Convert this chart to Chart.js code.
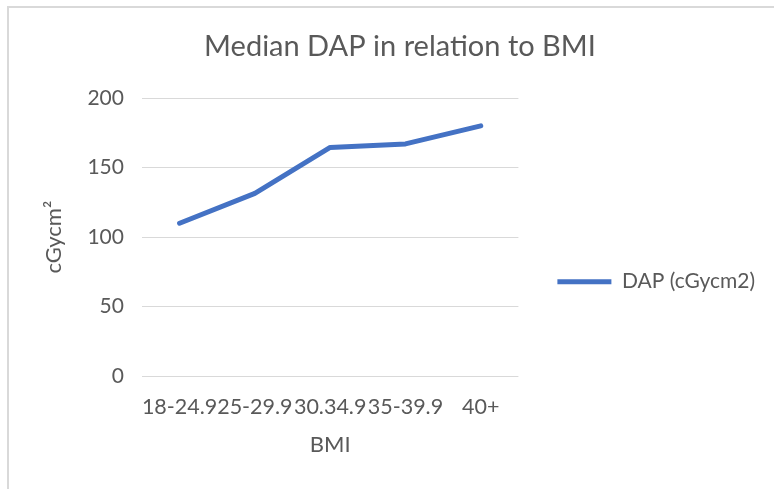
<!DOCTYPE html>
<html>
<head>
<meta charset="utf-8">
<script src="https://cdn.jsdelivr.net/npm/chart.js@4.4.1/dist/chart.umd.min.js"></script>
<style>
    html, body { margin: 0; padding: 0; background: #fff; overflow: hidden; }
    .wrap { position: relative; width: 774px; height: 489px; }
    .frame { position: absolute; left: 7px; top: 6px; width: 800px; height: 600px; border-left: 2px solid #d9d9d9; border-top: 2px solid #d9d9d9; }
    canvas { position: absolute; left: 0; top: 0; }
</style>
</head>
<body>
<div class="wrap">
    <div class="frame"></div>
    <canvas id="dapChart" width="774" height="489"></canvas>
</div>
<script>
// Median DAP by BMI group
const bmiGroups = ['18-24.9', '25-29.9', '30.34.9', '35-39.9', '40+'];
const dapValues = [110, 131.5, 164.5, 167, 180];
const yTicks = [0, 50, 100, 150, 200];

const textColor = '#595959';
const fontFamily = 'Lato, "Open Sans", sans-serif';

const dapCtx = document.getElementById('dapChart');
new Chart(dapCtx, {
    type: 'line',
    data: {
        labels: bmiGroups,
        datasets: [{
            label: 'DAP (cGycm2)',
            data: dapValues,
            borderColor: '#4472C4',
            backgroundColor: '#4472C4',
            borderWidth: 5,
            borderCapStyle: 'round',
            borderJoinStyle: 'round',
            pointRadius: 0,
            tension: 0
        }]
    },
    options: {
        responsive: false,
        animation: false,
        layout: {
            padding: { top: 10, left: 35, right: 9, bottom: 20 }
        },
        plugins: {
            title: {
                display: true,
                text: 'Median DAP in relation to BMI',
                color: textColor,
                font: { family: fontFamily, size: 29, weight: 'normal' },
                padding: { top: 19.6, bottom: 33.6 }
            },
            legend: {
                position: 'right',
                maxWidth: 255,
                title: {
                    display: true,
                    text: '',
                    padding: 35
                },
                labels: {
                    color: textColor,
                    font: { family: fontFamily, size: 21 },
                    usePointStyle: true,
                    pointStyle: 'line',
                    pointStyleWidth: 54,
                    padding: 39
                }
            },
            tooltip: { enabled: false }
        },
        scales: {
            x: {
                offset: true,
                grid: { display: false },
                border: { display: false },
                ticks: {
                    color: textColor,
                    font: { family: fontFamily, size: 21.5 },
                    autoSkip: false,
                    maxRotation: 0,
                    padding: 10
                },
                title: {
                    display: true,
                    text: 'BMI',
                    color: textColor,
                    font: { family: fontFamily, size: 22 },
                    padding: { top: 1.5, bottom: 11 }
                }
            },
            y: {
                min: 0,
                max: 200,
                afterBuildTicks: function(axis) {
                    axis.ticks = yTicks.map(v => ({ value: v }));
                },
                grid: {
                    color: '#d9d9d9',
                    lineWidth: 1,
                    drawTicks: false
                },
                border: { display: false },
                ticks: {
                    color: textColor,
                    font: { family: fontFamily, size: 21 },
                    padding: 18
                },
                title: {
                    display: true,
                    text: 'cGycm²',
                    color: textColor,
                    font: { family: fontFamily, size: 22 },
                    padding: { top: 6, bottom: 2 }
                }
            }
        }
    }
});
</script>
</body>
</html>
